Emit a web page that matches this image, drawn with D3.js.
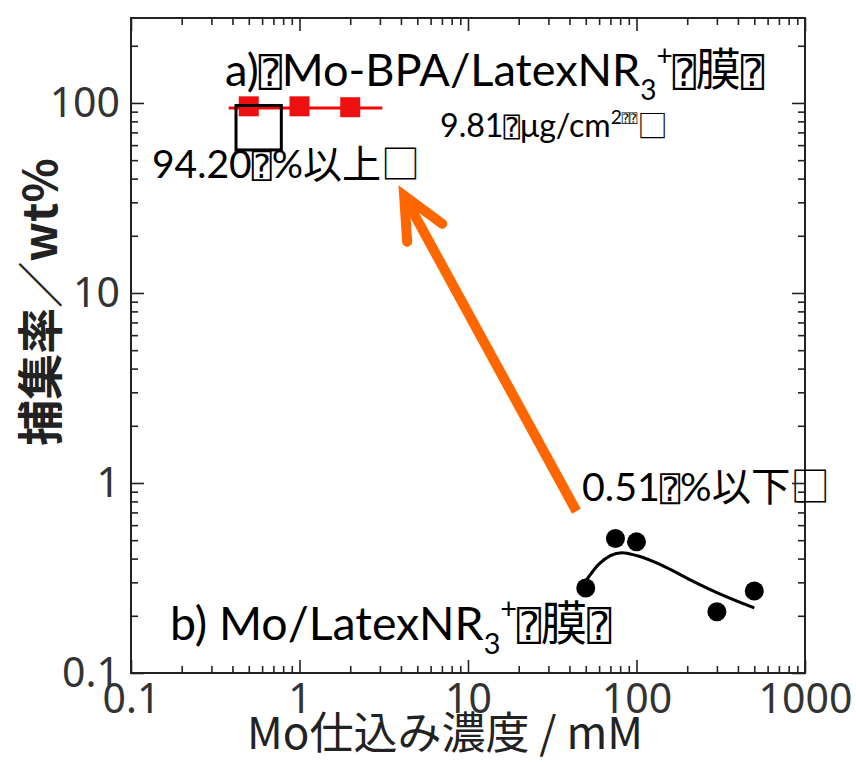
<!DOCTYPE html>
<html><head><meta charset="utf-8">
<script src="https://cdnjs.cloudflare.com/ajax/libs/d3/7.8.5/d3.min.js"></script>
<style>
html,body{margin:0;padding:0;background:#fff;}
svg{display:block;}
</style></head>
<body>
<svg id="chart" width="856" height="762"></svg>
<script>
// ---------- data ----------
const xTickLabels = ["0.1","1","10","100","1000"];
const xMajor = [0.1,1,10,100,1000];
const yTickLabels = ["0.1","1","10","100"];
const yMajor = [0.1,1,10,100];

// a) Mo-BPA/LatexNR3+ membrane (red squares)
const bpaConc = [0.5, 1, 2];
const bpaRate = [96, 96, 95];
const bpaMean = 94.2;
const bpaLineX = [0.38, 3.1];

// b) Mo/LatexNR3+ membrane (black circles)
const moConc = [50, 75, 100, 300, 500];
const moRate = [0.28, 0.51, 0.49, 0.21, 0.27];

// hand-drawn trend curve for b)
const trendX = [50, 60, 70, 82, 100, 150, 200, 300, 500];
const trendY = [0.305, 0.375, 0.415, 0.43, 0.415, 0.36, 0.315, 0.265, 0.22];

// arrow (data coords): from b) region to a) region
const arrowFrom = [44, 0.71];
const arrowTo = [4.18, 32.5];

// box overlay near squares (data coords)
const boxX = [0.42, 0.78];
const boxY = [97, 56.6];

const xTitle = "Mo仕込み濃度 / mM";
const yTitle = "捕集率／wt%";

// ---------- layout ----------
const svg = d3.select("#chart");
const L = 131, R = 805, T = 18, B = 673;
const x = d3.scaleLog().domain([0.1,1000]).range([L,R]);
const y = d3.scaleLog().domain([0.1,280]).range([B,T]);

function minorTicks(lo, hi){
  const out=[];
  for(let e=Math.floor(Math.log10(lo)); e<=Math.ceil(Math.log10(hi)); e++){
    for(let m=2;m<=9;m++){ const v=m*Math.pow(10,e); if(v>lo && v<hi) out.push(v); }
  }
  return out;
}
const xMinor = minorTicks(0.1,1000);
const yMinor = minorTicks(0.1,280);

const axisCol = "#222";
const tickFont = "'Noto Sans','Noto Sans CJK JP',sans-serif";
const cjk = "'Noto Sans CJK JP',sans-serif";

function styleAxis(g){
  g.select(".domain").remove();
  g.selectAll(".tick line").attr("stroke",axisCol).attr("stroke-width",1.6);
  g.selectAll("text").attr("fill","#333").attr("font-family",tickFont).attr("font-size",41);
}
function minorAxis(g){
  styleAxis(g);
  g.selectAll("text").remove();
}

// frame
svg.append("rect").attr("x",L).attr("y",T).attr("width",R-L).attr("height",B-T)
  .attr("fill","none").attr("stroke",axisCol).attr("stroke-width",2);

// bottom
svg.append("g").attr("transform",`translate(0,${B})`)
  .call(d3.axisBottom(x).tickValues(xMinor).tickSize(-7)).call(minorAxis);
svg.append("g").attr("transform",`translate(0,${B})`)
  .call(d3.axisBottom(x).tickValues(xMajor).tickSize(-13).tickPadding(11).tickFormat((d,i)=>xTickLabels[i])).call(styleAxis);
// top
svg.append("g").attr("transform",`translate(0,${T})`)
  .call(d3.axisTop(x).tickValues(xMinor).tickSize(-7)).call(minorAxis);
svg.append("g").attr("transform",`translate(0,${T})`)
  .call(d3.axisTop(x).tickValues(xMajor).tickSize(-13)).call(minorAxis);
// left
svg.append("g").attr("transform",`translate(${L},0)`)
  .call(d3.axisLeft(y).tickValues(yMinor).tickSize(-7)).call(minorAxis);
svg.append("g").attr("transform",`translate(${L},0)`)
  .call(d3.axisLeft(y).tickValues(yMajor).tickSize(-13).tickPadding(11).tickFormat((d,i)=>yTickLabels[i])).call(styleAxis);
// right
svg.append("g").attr("transform",`translate(${R},0)`)
  .call(d3.axisRight(y).tickValues(yMinor).tickSize(-7)).call(minorAxis);
svg.append("g").attr("transform",`translate(${R},0)`)
  .call(d3.axisRight(y).tickValues(yMajor).tickSize(-13)).call(minorAxis);

// axis titles
svg.append("text").attr("x",445).attr("y",749).attr("text-anchor","middle")
  .attr("font-family",cjk).attr("font-size",44).attr("fill","#222").text(xTitle);
svg.append("text").attr("transform","translate(57,302) rotate(-90)").attr("text-anchor","middle")
  .attr("font-family",cjk).attr("font-weight",700).attr("font-size",46).attr("fill","#222").text(yTitle);

// ---------- marks ----------
// red mean line
svg.append("line").attr("x1",x(bpaLineX[0])).attr("x2",x(bpaLineX[1]))
  .attr("y1",y(bpaMean)).attr("y2",y(bpaMean)).attr("stroke","#ff0000").attr("stroke-width",3);
// red squares
svg.selectAll("rect.sq").data(bpaConc).join("rect").attr("class","sq")
  .attr("x",(d)=>x(d)-10).attr("y",(d,i)=>y(bpaRate[i])-10).attr("width",20).attr("height",20)
  .attr("fill","#ee1010");
// overlay box
svg.append("rect").attr("x",x(boxX[0])).attr("y",y(boxY[0])).attr("width",x(boxX[1])-x(boxX[0]))
  .attr("height",y(boxY[1])-y(boxY[0])).attr("fill","none").attr("stroke","#000").attr("stroke-width",3);

// trend curve
svg.append("path").datum(trendX.map((d,i)=>[d,trendY[i]]))
  .attr("d",d3.line().x(d=>x(d[0])).y(d=>y(d[1])).curve(d3.curveMonotoneX))
  .attr("fill","none").attr("stroke","#000").attr("stroke-width",3);
// black circles
svg.selectAll("circle.pt").data(moConc).join("circle").attr("class","pt")
  .attr("cx",d=>x(d)).attr("cy",(d,i)=>y(moRate[i])).attr("r",9.5).attr("fill","#000");

// orange arrow
const ax0=x(arrowFrom[0]), ay0=y(arrowFrom[1]), ax1=x(arrowTo[0]), ay1=y(arrowTo[1]);
const ag = svg.append("g").attr("stroke","#ff6600").attr("stroke-width",10).attr("stroke-linecap","round").attr("fill","none");
ag.append("line").attr("x1",ax0).attr("y1",ay0).attr("x2",ax1+2).attr("y2",ay1+4).attr("stroke-linecap","butt");
ag.append("path").attr("d",`M${ax1+3},${ay1+46} L${ax1},${ay1} L${ax1+38},${ay1+28}`).attr("stroke-linejoin","miter");

// ---------- annotations ----------
const latin = "Lato,'Noto Sans CJK JP',sans-serif";
function rich(xp, yp, segs, fs, targetW){
  const t = svg.append("text").attr("x",xp).attr("y",yp).attr("font-family",latin).attr("font-size",fs).attr("fill","#000");
  let cur = 0;
  const spans = [];
  segs.forEach(s=>{
    const ts = t.append("tspan").text(s.t);
    const shift = s.shift || 0;
    const size = s.size || 1;
    spans.push({ts, dy:(shift-cur), size});
    cur = shift;
    if(s.tofu) ts.attr("font-family","'DejaVu Sans Mono'");
    if(s.cjk) ts.attr("font-family",cjk);
  });
  function apply(f){
    t.attr("font-size",f);
    spans.forEach(o=>{ o.ts.attr("font-size",f*o.size); if(o.dy) o.ts.attr("dy",o.dy*f); });
  }
  apply(fs);
  if(targetW){
    const w = t.node().getBBox().width;
    apply(fs*targetW/w);
  }
  return t;
}
rich(225, 86, [
  {t:"a)"},{t:"⍰",tofu:true,size:0.85},{t:"Mo-BPA/LatexNR"},{t:"3",shift:0.3,size:0.62},{t:"+",shift:-0.45,size:0.62},
  {t:"⍰",tofu:true,size:0.85},{t:"膜",cjk:true},{t:"⍰",tofu:true,size:0.85}
], 36, 540);
rich(440, 137, [
  {t:"9.81"},{t:"⍰",tofu:true,size:0.85},{t:"μg/cm"},{t:"2",shift:-0.4,size:0.6},{t:"⍰⍰",tofu:true,shift:-0.45,size:0.4},{t:"□",cjk:true,size:0.95}
], 27, 228);
rich(152, 178, [
  {t:"94.20"},{t:"⍰",tofu:true,size:0.85},{t:"%"},{t:"以上□",cjk:true}
], 36, 268);
rich(582, 501, [
  {t:"0.51"},{t:"⍰",tofu:true,size:0.85},{t:"%"},{t:"以下□",cjk:true}
], 36, 248);
rich(170, 640, [
  {t:"b) Mo/LatexNR"},{t:"3",shift:0.3,size:0.62},{t:"+",shift:-0.45,size:0.62},{t:"⍰",tofu:true,size:0.85},{t:"膜",cjk:true},{t:"⍰",tofu:true,size:0.85}
], 36, 442);
</script>
</body></html>
